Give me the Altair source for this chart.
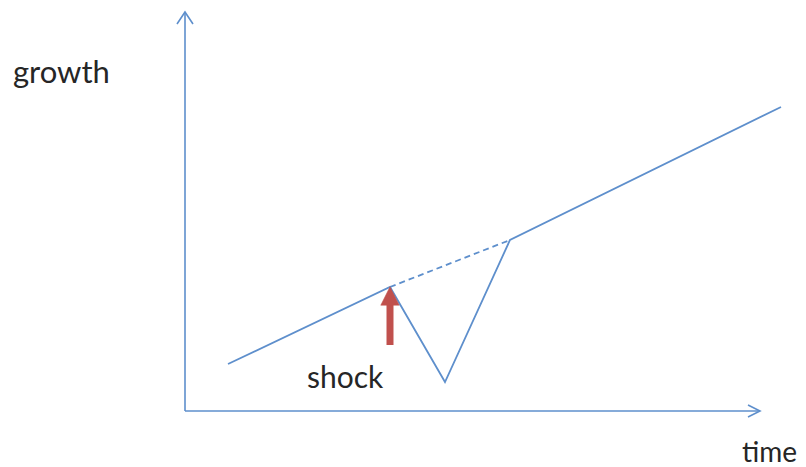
import altair as alt
import pandas as pd

# main growth path (time, growth)
path_time = [4.3, 20.5, 26.0, 32.5, 59.6]
path_growth = [4.7, 12.4, 2.9, 17.1, 30.4]

# counterfactual trend (dashed)
trend_time = [20.5, 32.5]
trend_growth = [12.4, 17.1]

# axes with open arrow heads
axis_seg = ["x", "x", "y", "y", "xh", "xh", "xh", "yh", "yh", "yh"]
axis_time = [0, 57.5, 0, 0, 56.3, 57.5, 56.3, -0.8, 0, 0.8]
axis_growth = [0, 0, 0, 39.9, 0.6, 0, -0.6, 38.7, 39.9, 38.7]

# shock arrow
shock_time = 20.5
shock_from = 6.6
shock_to = 10.8
shock_head = 11.5

labels = ["growth", "shock", "time"]
label_time = [-17.2, 12.2, 55.7]
label_growth = [32.8, 2.3, -5.1]
label_size = [31, 30, 28]

BLUE = "#5E8FCC"
RED = "#C0504D"

xs = alt.Scale(domain=[-17.7, 61.3], nice=False, zero=False)
ys = alt.Scale(domain=[-5.6, 40.3], nice=False, zero=False)

def X(f="t"):
    return alt.X(f"{f}:Q", scale=xs, axis=None)

def Y(f="g"):
    return alt.Y(f"{f}:Q", scale=ys, axis=None)

path_df = pd.DataFrame({"t": path_time, "g": path_growth, "o": range(len(path_time))})
trend_df = pd.DataFrame({"t": trend_time, "g": trend_growth, "o": range(len(trend_time))})
axis_df = pd.DataFrame({"t": axis_time, "g": axis_growth, "s": axis_seg, "o": range(len(axis_seg))})
shaft_df = pd.DataFrame({"t": [shock_time], "g": [shock_from], "g2": [shock_to]})
head_df = pd.DataFrame({"t": [shock_time], "g": [shock_head]})
label_df = pd.DataFrame({"lab": labels, "t": label_time, "g": label_growth, "fs": label_size})

axes = alt.Chart(axis_df).mark_line(color=BLUE, strokeWidth=1.6).encode(
    x=X(), y=Y(), detail="s:N", order="o:Q")

path = alt.Chart(path_df).mark_line(color=BLUE, strokeWidth=1.8).encode(
    x=X(), y=Y(), order="o:Q")

trend = alt.Chart(trend_df).mark_line(color=BLUE, strokeWidth=1.8, strokeDash=[6, 4]).encode(
    x=X(), y=Y(), order="o:Q")

shaft = alt.Chart(shaft_df).mark_rule(color=RED, strokeWidth=7).encode(
    x=X(), y=Y(), y2="g2:Q")

head = alt.Chart(head_df).mark_point(
    shape="M0,-1L1,1L-1,1Z", filled=True, fill=RED, stroke=RED, strokeWidth=0.5, size=340, opacity=1
).encode(x=X(), y=Y())

text = alt.Chart(label_df).mark_text(
    align="left", baseline="alphabetic", font="Lato", color="#262626"
).encode(x=X(), y=Y(), text="lab:N", size=alt.Size("fs:Q", scale=None, legend=None))

chart = alt.layer(axes, trend, path, shaft, head, text).properties(
    width=790, height=459, padding=0, autosize=alt.AutoSizeParams(type="none")
).configure_view(stroke=None)

chart.save("out.html", embed_options={"renderer": "svg", "actions": False})
